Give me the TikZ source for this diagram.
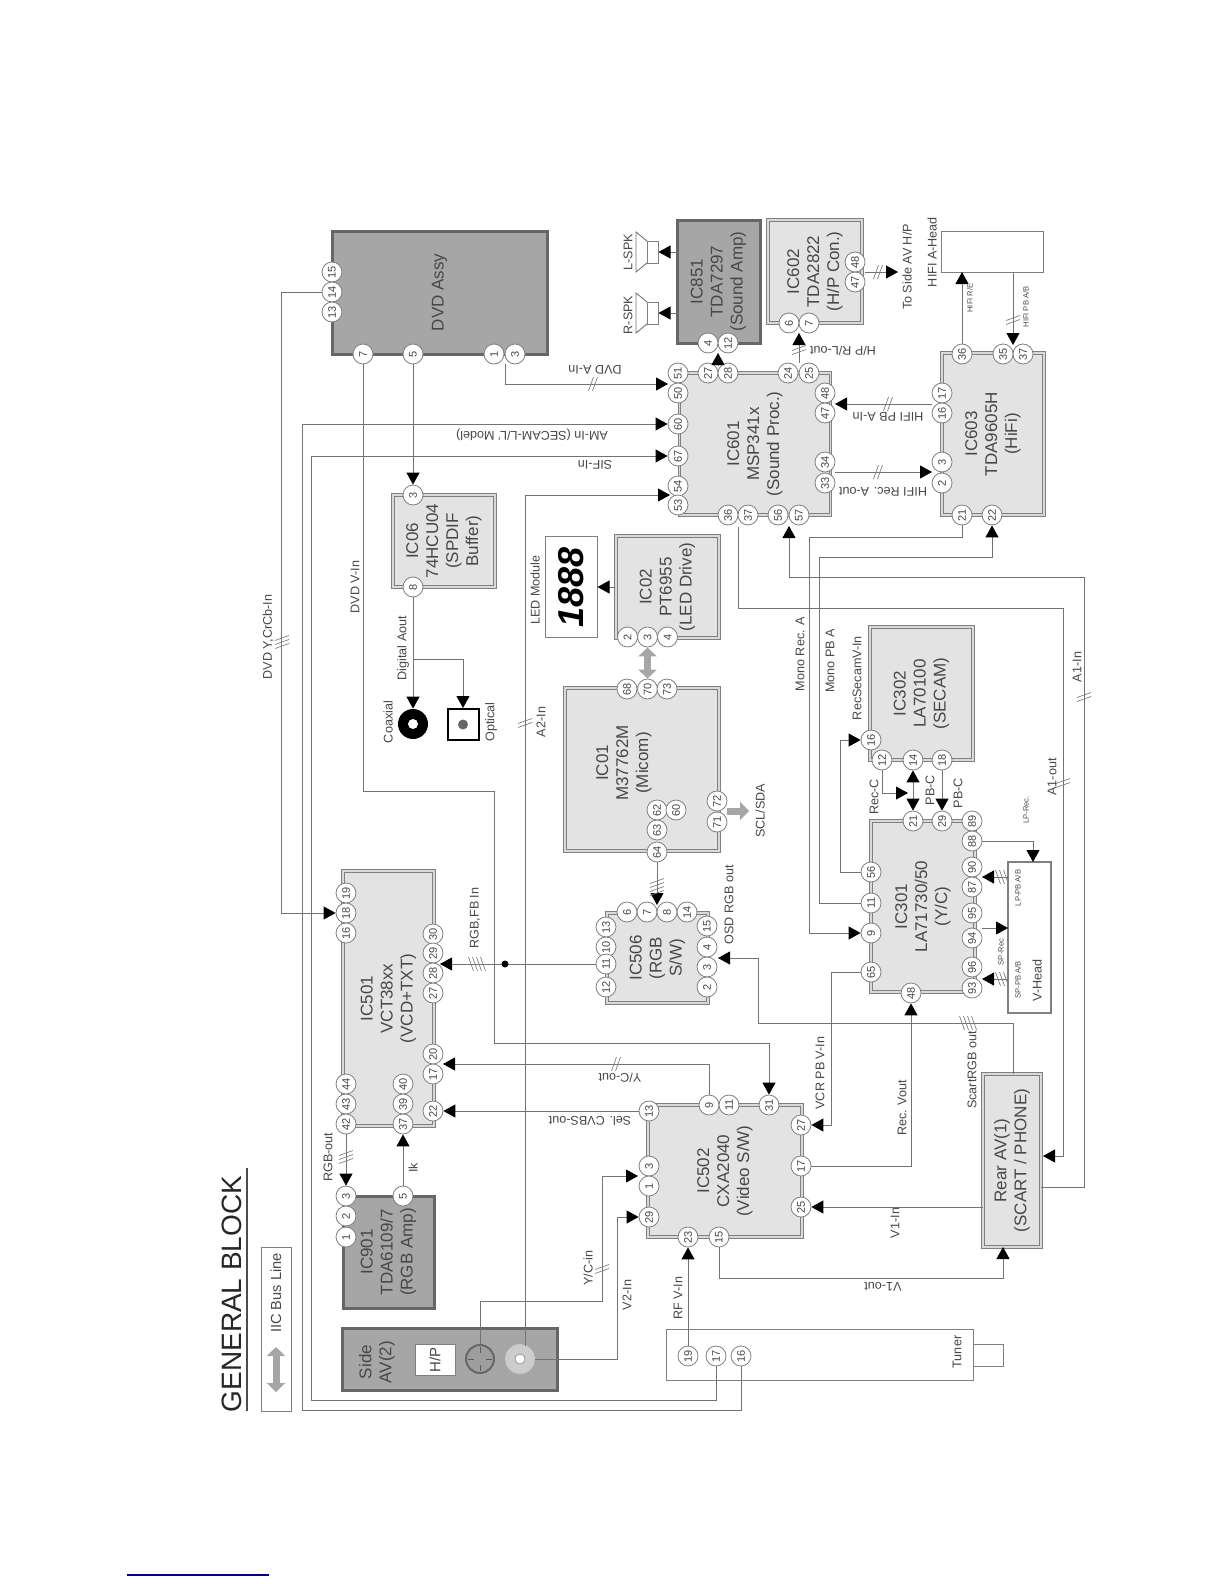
\documentclass[tikz,border=0pt]{standalone}
\usepackage{fontspec}
\setmainfont{Liberation Sans}
\usetikzlibrary{arrows.meta,positioning,shapes.geometric}

\begin{document}
\begin{tikzpicture}[
    x=0.5pt, y=-0.5pt,
    font=\fontsize{8.5}{10}\selectfont,
    every node/.style={text=black!72},
    lightic/.style={draw=black!50, double=white!70!gray, double distance=0.7pt, line width=0.6pt, fill=gray!22, rotate=90, align=center, inner sep=0pt},
    darkic/.style={draw=black!60, line width=1.5pt, fill=black!35, rotate=90, align=center, inner sep=0pt},
    plainbox/.style={draw=black!50, line width=0.5pt, fill=white, rotate=90, align=center, inner sep=0pt},
    pinc/.style={circle, draw=black!50, line width=0.4pt, fill=white, minimum size=10pt, inner sep=0pt, rotate=90, font=\fontsize{5.5}{6}\selectfont},
    vlab/.style={rotate=90, inner sep=0pt, font=\fontsize{6.3}{7}\selectfont},
    ulab/.style={rotate=180, inner sep=0pt, font=\fontsize{6.3}{7}\selectfont},
    tinylab/.style={rotate=90, inner sep=0pt, font=\fontsize{3.8}{4}\selectfont},
    line/.style={-{Triangle[length=6pt,width=6.5pt,color=black]}, draw=black!55, line width=0.45pt},
    wire/.style={draw=black!55, line width=0.45pt},
    both/.style={{Triangle[length=6pt,width=6.5pt,color=black]}-{Triangle[length=6pt,width=6.5pt,color=black]}, draw=black!55, line width=0.45pt},
    iic/.style={{Triangle[length=4.5pt,width=9pt]}-{Triangle[length=4.5pt,width=9pt]}, draw=black!35, line width=3.5pt},
    iicone/.style={-{Triangle[length=4.5pt,width=9pt]}, draw=black!35, line width=3.5pt},
    pics/hatch/.style={code={\foreach \k in {1,...,#1} \draw[draw=black!50, line width=0.35pt] ({\k*4-2*(#1+1)-2.5},-7) -- ({\k*4-2*(#1+1)+2.5},7);}}
]
    \useasboundingbox (0,0) rectangle (1224,1584);

    % title and legend
    \node[rotate=90, inner sep=0pt, text=black!85, font=\fontsize{14}{16}\selectfont] (title) at (232,1294) {GENERAL BLOCK};
    \coordinate (titlea) at (247,1168);
    \coordinate (titleb) at (247,1411);
    \draw[draw=black!70, line width=0.8pt] (titlea) -- (titleb);
    \node[plainbox, minimum width=82pt, minimum height=15pt] (legend) at (276,1329) {};
    \node[vlab, font=\fontsize{7.3}{8}\selectfont] (legendtxt) at (276,1293) {IIC Bus Line};
    \coordinate (legtop) at (276,1347);
    \coordinate (legbot) at (276,1392);

    % blocks
    \node[darkic, minimum width=61.5pt, minimum height=107.5pt] (dvd) at (439.5,292.5) {DVD Assy};
    \node[darkic, minimum width=61.5pt, minimum height=41.5pt] (ic851) at (718.5,281.5) {IC851\\TDA7297\\(Sound Amp)};
    \node[lightic, minimum width=51.5pt, minimum height=47pt] (ic602) at (815,271.5) {IC602\\TDA2822\\(H/P Con.)};
    \node[plainbox, minimum width=20.5pt, minimum height=51pt] (hifi) at (992,251.5) {};
    \node[lightic, minimum width=71pt, minimum height=75.5pt] (ic601) at (755,444) {IC601\\MSP341x\\(Sound Proc.)};
    \node[lightic, minimum width=81pt, minimum height=51pt] (ic603) at (993,434) {IC603\\TDA9605H\\(HiFi)};
    \node[lightic, minimum width=46pt, minimum height=51pt] (ic06) at (444,541) {IC06\\74HCU04\\(SPDIF\\Buffer)};
    \node[plainbox, minimum width=50.5pt, minimum height=26pt] (led) at (571,587) {};
    \node[rotate=90, inner sep=0pt, text=black, font=\fontsize{18}{18}\selectfont\bfseries\itshape] (digits) at (571,587) {1888};
    \node[lightic, minimum width=51pt, minimum height=51.5pt] (ic02) at (667.5,587) {IC02\\PT6955\\(LED Drive)};
    \node[lightic, minimum width=81.5pt, minimum height=77pt] (ic01) at (642,769.5) {};
    \node[rotate=90, align=center, inner sep=0pt] (ic01txt) at (624,763) {IC01\\M37762M\\(Micom)};
    \node[lightic, minimum width=66.5pt, minimum height=51.5pt] (ic302) at (921.5,693.5) {IC302\\LA70100\\(SECAM)};
    \node[lightic, minimum width=85.5pt, minimum height=52pt] (ic301) at (923,906.5) {IC301\\LA71730/50\\(Y/C)};
    \node[plainbox, line width=0.7pt, minimum width=75.5pt, minimum height=21.5pt] (vhead) at (1029.5,937.5) {};
    \node[lightic, minimum width=45pt, minimum height=50.5pt] (ic506) at (657.5,958) {IC506\\(RGB\\S/W)};
    \node[lightic, minimum width=127.5pt, minimum height=45.5pt] (ic501) at (388.5,998.5) {IC501\\VCT38xx\\(VCD+TXT)};
    \node[darkic, minimum width=56pt, minimum height=45.5pt] (ic901) at (388.5,1252) {IC901\\TDA6109/7\\(RGB Amp)};
    \node[darkic, minimum width=31pt, minimum height=107.5pt] (side) at (449.5,1359) {};
    \node[rotate=90, align=center, inner sep=0pt] (sidetxt) at (377,1362) {Side\\AV(2)};
    \node[plainbox, minimum width=15.5pt, minimum height=20pt, font=\fontsize{7.5}{8}\selectfont] (hp) at (435,1360) {H/P};
    \node[circle, draw=black!60, line width=1pt, fill=black!38, minimum size=14pt, inner sep=0pt] (svid) at (480,1359) {};
    \draw[draw=black!65, line width=0.5pt] (480,1347) -- (480,1353) (480,1365) -- (480,1371) (468,1359) -- (474,1359) (486,1359) -- (492,1359);
    \node[circle, draw=black!20, fill=black!20, line width=2pt, minimum size=13pt, inner sep=0pt] (rca) at (520,1359) {};
    \node[circle, draw=black!40, fill=white, minimum size=5pt, inner sep=0pt] (rcain) at (520,1359) {};
    \node[lightic, minimum width=66pt, minimum height=77pt] (ic502) at (725,1171) {IC502\\CXA2040\\(Video S/W)};
    \node[lightic, minimum width=86.5pt, minimum height=29pt] (rear) at (1012,1160.5) {Rear AV(1)\\(SCART / PHONE)};
    \node[plainbox, minimum width=25.5pt, minimum height=153.5pt] (tuner) at (819.5,1354.5) {};
    \node[plainbox, minimum width=11pt, minimum height=15pt] (stub) at (988,1355) {};

    % speakers, jacks
    \node[plainbox, minimum width=11pt, minimum height=5.5pt] (spkl) at (652.5,252) {};
    \node[plainbox, minimum width=11pt, minimum height=5.5pt] (spkr) at (652.5,313) {};
    \draw[wire] (647,241) -- (636,232) -- (636,272) -- (647,263);
    \draw[wire] (647,302) -- (636,293) -- (636,333) -- (647,324);
    \node[circle, fill=black, minimum size=15pt, inner sep=0pt] (coax) at (413,724) {};
    \node[circle, fill=white, minimum size=5pt, inner sep=0pt] (coaxin) at (413,724) {};
    \node[draw=black, line width=1pt, fill=white, minimum size=15.5pt, inner sep=0pt] (optic) at (463,724.5) {};
    \node[circle, fill=black!60, minimum size=5pt, inner sep=0pt] (opticin) at (463,724.5) {};

    % pins
    \foreach \num/\x/\y in {15/332/272,14/332/292,13/332/312,7/363/354,5/413/354,1/494/354,3/515/354}
        \node[pinc] (dvd\num) at (\x,\y) {\num};
    \foreach \num/\x/\y in {4/708/343,12/728/343}
        \node[pinc] (ic851p\num) at (\x,\y) {\num};
    \foreach \num/\x/\y in {6/789/323,7/809/323,47/855/282,48/855/262}
        \node[pinc] (ic602p\num) at (\x,\y) {\num};
    \foreach \num/\x/\y in {51/678/373,50/678/393,60/678/424,67/678/456,54/678/486,53/678/505,27/708/373,28/728/373,24/788/373,25/809/373,48/825/393,47/825/413,34/825/462,33/825/483,36/728/515,37/748/515,56/778/515,57/799/515}
        \node[pinc] (ic601p\num) at (\x,\y) {\num};
    \foreach \num/\x/\y in {36/962/354,35/1003/354,37/1023/354,17/942/393,16/942/413,3/942/462,2/942/483,21/962/515,22/992/515}
        \node[pinc] (ic603p\num) at (\x,\y) {\num};
    \foreach \num/\x/\y in {3/413/495,8/413/587}
        \node[pinc] (ic06p\num) at (\x,\y) {\num};
    \foreach \num/\x/\y in {2/627.5/637,3/647.5/637,4/667.5/637}
        \node[pinc] (ic02p\num) at (\x,\y) {\num};
    \foreach \num/\x/\y in {68/627/689,70/647.5/689,73/667/689,64/657/852,63/657/830,62/657/810,60/676/810,71/717/822,72/717/801}
        \node[pinc] (ic01p\num) at (\x,\y) {\num};
    \foreach \num/\x/\y in {6/627/912,7/647/912,8/667/912,14/687/912,13/606/927,10/606/947,11/606/964,12/606/987,15/707/926,4/707/947,3/707/967,2/707/987}
        \node[pinc] (ic506p\num) at (\x,\y) {\num};
    \foreach \num/\x/\y in {19/346/893,18/346/913,16/346/933,30/433/934,29/433/953,28/433/973,27/433/993,20/433/1054,17/433/1074,22/433/1111,44/346/1084,43/346/1104,42/346/1124,40/403/1084,39/403/1104,37/403/1124}
        \node[pinc] (ic501p\num) at (\x,\y) {\num};
    \foreach \num/\x/\y in {3/346/1196,2/346/1216,1/346/1237,5/403/1196}
        \node[pinc] (ic901p\num) at (\x,\y) {\num};
    \foreach \num/\x/\y in {13/649/1111,3/649/1166,1/649/1186,29/649/1217,9/709/1105,11/729/1105,31/769/1105,27/801/1125,17/801/1166,25/801/1207,23/688/1237,15/719/1237}
        \node[pinc] (ic502p\num) at (\x,\y) {\num};
    \foreach \num/\x/\y in {19/688/1356,17/716/1356,16/741/1356}
        \node[pinc] (tuner\num) at (\x,\y) {\num};
    \foreach \num/\x/\y in {16/871/740,12/882/760,14/913/760,18/942/760}
        \node[pinc] (ic302p\num) at (\x,\y) {\num};
    \foreach \num/\x/\y in {21/913/821,29/942/821,89/972/821,88/972/841,90/972/867,87/972/887,95/972/913,94/972/938,96/972/967,93/972/988,56/871/872,11/871/903,9/871/933,65/871/972,48/911/993}
        \node[pinc] (ic301p\num) at (\x,\y) {\num};

    % free ends of the wires
    \foreach \name/\x/\y in {dvdj/505/364,in601a/668/384,in601b/670/495,in601c/789/526,in601d/835/404,out601/835/472,in603b/932/472,out603/932/404,
        rcatop/525/1346,in502a/638/1176,digj/413/659,sclout/727/811,sclend/749/811,in506a/657/905,in501a/440/964,in506b/718/958,rearup/1013/1074,
        in501b/443/1064,rearbot/1003/1247,rearleft/983/1207,rearright/1041/1187,rearin/1043/1156,out37/738/527,recc/908/793,vtop/1033/862,
        vha/1008/877,in301a/982/877,out301/982/928,vhb/1008/928,vhc/1008/979,in301c/982/979,hifia/962/272,hifib/1013/272,in603a/1013/345,
        out851/718/366,in851/718/353,out24/799/363,in602/799/333,out602/865/272,toside/898/272,ampl/677/252,ampr/677/313}
        \coordinate (\name) at (\x,\y);

    % wires
    \draw[line] (dvd14) -- (281,292) |- (ic501p18);
    \draw[line] (dvd7) |- (494,791) -- (494,1043) -| (ic502p31);
    \draw[line] (dvd5) -- (ic06p3);
    \draw[line] (dvdj) |- (in601a);
    \draw[line] (tuner16) |- (302,1410) |- (ic601p60);
    \draw[line] (tuner17) |- (311,1400) |- (ic601p67);
    \draw[line] (rcatop) |- (in601b);
    \draw[line] (svid) |- (602,1301) |- (in502a);
    \draw[line] (rca) -| (617,1217) -- (ic502p29);
    \draw[line] (ic06p8) -- (coax);
    \draw[line] (digj) -| (optic);
    \draw[line] (ic02) -- (led);
    \draw[iic] (ic02p3) -- (ic01p70);
    \draw[iicone] (sclout) -- (sclend);
    \draw[iic] (legtop) -- (legbot);
    \draw[line] (ic01p64) -- (in506a);
    \draw[line] (ic506p11) -- (in501a);
    \node[circle, fill=black, minimum size=3.5pt, inner sep=0pt] (rgbdot) at (505,964) {};
    \draw[line] (rearup) |- (758,1023) |- (in506b);
    \draw[line] (ic502p9) |- (in501b);
    \draw[line] (ic502p13) -- (ic501p22);
    \draw[line] (ic901p5) -- (ic501p37);
    \draw[line] (ic501p42) -- (ic901p3);
    \draw[line] (ic502p15) |- (1003,1278) -- (rearbot);
    \draw[line] (tuner19) -- (ic502p23);
    \draw[line] (rearleft) -- (ic502p25);
    \draw[line] (ic502p17) -| (ic301p48);
    \draw[line] (ic301p65) -| (831,1125) -- (ic502p27);
    \draw[line] (ic603p21) |- (809,537) |- (ic301p9);
    \draw[line] (ic301p11) -| (819,557) -| (ic603p22);
    \draw[line] (rearright) -| (1084,577) -| (in601c);
    \draw[line] (out37) |- (1063,608) |- (rearin);
    \draw[line] (ic301p56) -| (840,740) -- (ic302p16);
    \draw[line] (ic302p12) |- (recc);
    \draw[both] (ic302p14) -- (ic301p21);
    \draw[line] (ic302p18) -- (ic301p29);
    \draw[line] (ic301p88) -| (vtop);
    \draw[line] (vha) -- (in301a);
    \draw[line] (out301) -- (vhb);
    \draw[line] (vhc) -- (in301c);
    \draw[line] (ic603p36) -- (hifia);
    \draw[line] (hifib) -- (in603a);
    \draw[line] (out603) -- (in601d);
    \draw[line] (out601) -- (in603b);
    \draw[line] (out851) -- (in851);
    \draw[line] (out24) -- (in602);
    \draw[line] (out602) -- (toside);
    \draw[line] (ampl) -- (spkl);
    \draw[line] (ampr) -- (spkr);

    % bus marks
    \pic[rotate=90] at (282,642) {hatch=3};
    \pic[rotate=90] at (525,723) {hatch=2};
    \pic[rotate=90] at (1084,697) {hatch=2};
    \pic[rotate=90] at (1063,783) {hatch=2};
    \pic[rotate=90] at (657,887) {hatch=4};
    \pic[rotate=90] at (602,1269) {hatch=2};
    \pic[rotate=90] at (346,1157) {hatch=3};
    \pic[rotate=90] at (1013,320) {hatch=2};
    \pic at (477,964) {hatch=4};
    \pic at (968,1023) {hatch=4};
    \pic[xscale=-1] at (616,1064) {hatch=2};
    \pic at (1002,877) {hatch=3};
    \pic at (1002,979) {hatch=3};
    \pic[xscale=-1] at (593,384) {hatch=2};
    \pic[xscale=-1] at (888,404) {hatch=2};
    \pic[xscale=-1] at (878,472) {hatch=2};
    \pic[rotate=90] at (799,350) {hatch=2};
    \pic[xscale=-1] at (878,272) {hatch=2};

    % labels
    \node[vlab] (lbla) at (268,637) {DVD Y,CrCb-In};
    \node[vlab] (lblb) at (355,587) {DVD V-In};
    \node[vlab] (lblc) at (403,648) {Digital Aout};
    \node[ulab] (lbld) at (595,370) {DVD A-In};
    \node[ulab] (lble) at (532,435) {AM-In (SECAM-L/L' Model)};
    \node[ulab] (lblf) at (595,465) {SIF-In};
    \node[vlab] (lblg) at (388,722) {Coaxial};
    \node[vlab] (lblh) at (491,722) {Optical};
    \node[vlab] (lbli) at (535,590) {LED Module};
    \node[vlab] (lblj) at (541,722) {A2-In};
    \node[vlab] (lblk) at (628,252) {L-SPK};
    \node[vlab] (lbll) at (628,315) {R-SPK};
    \node[ulab] (lblm) at (843,351) {H/P R/L-out};
    \node[ulab] (lbln) at (888,417) {HIFI PB A-In};
    \node[ulab] (lblo) at (883,492) {HIFI Rec. A-out};
    \node[vlab] (lblp) at (907,267) {To Side AV H/P};
    \node[vlab] (lblq) at (932,252) {HIFI A-Head};
    \node[tinylab] (lblr) at (970,298) {HIFI R/E};
    \node[tinylab] (lbls) at (1026,307) {HIFI PB A/B};
    \node[vlab] (lblt) at (800,654) {Mono Rec. A};
    \node[vlab] (lblu) at (830,661) {Mono PB A};
    \node[vlab] (lblv) at (857,678) {RecSecamV-In};
    \node[vlab] (lblw) at (874,797) {Rec-C};
    \node[vlab] (lblx) at (930,790) {PB-C};
    \node[vlab] (lbly) at (958,793) {PB-C};
    \node[vlab] (lblz) at (1052,777) {A1-out};
    \node[vlab] (lblaa) at (1077,667) {A1-In};
    \node[tinylab] (lblab) at (1026,810) {LP-Rec.};
    \node[tinylab] (lblac) at (1018,888) {LP-PB A/B};
    \node[tinylab] (lblad) at (1018,980) {SP-PB A/B};
    \node[tinylab] (lblae) at (1001,952) {SP-Rec};
    \node[vlab] (lblaf) at (1037,980) {V-Head};
    \node[vlab] (lblag) at (729,905) {OSD RGB out};
    \node[vlab] (lblah) at (760,811) {SCL/SDA};
    \node[vlab] (lblai) at (475,918) {RGB,FB In};
    \node[vlab] (lblaj) at (328,1157) {RGB-out};
    \node[vlab] (lblak) at (413,1168) {Ik};
    \node[ulab] (lblal) at (620,1078) {Y/C-out};
    \node[ulab] (lblam) at (590,1121) {Sel. CVBS-out};
    \node[vlab] (lblan) at (588,1268) {Y/C-in};
    \node[vlab] (lblao) at (627,1295) {V2-In};
    \node[vlab] (lblap) at (678,1298) {RF V-In};
    \node[vlab] (lblaq) at (895,1223) {V1-In};
    \node[ulab] (lblar) at (883,1287) {V1-out};
    \node[vlab] (lblas) at (902,1108) {Rec. Vout};
    \node[vlab] (lblat) at (820,1073) {VCR PB V-In};
    \node[vlab] (lblau) at (972,1070) {ScartRGB out};
    \node[vlab] (lblav) at (957,1352) {Tuner};

    % rule at the foot of the page
    \coordinate (rulea) at (127,1575);
    \coordinate (ruleb) at (269,1575);
    \draw[draw=blue!55!black, line width=0.6pt] (rulea) -- (ruleb);
\end{tikzpicture}
\end{document}
